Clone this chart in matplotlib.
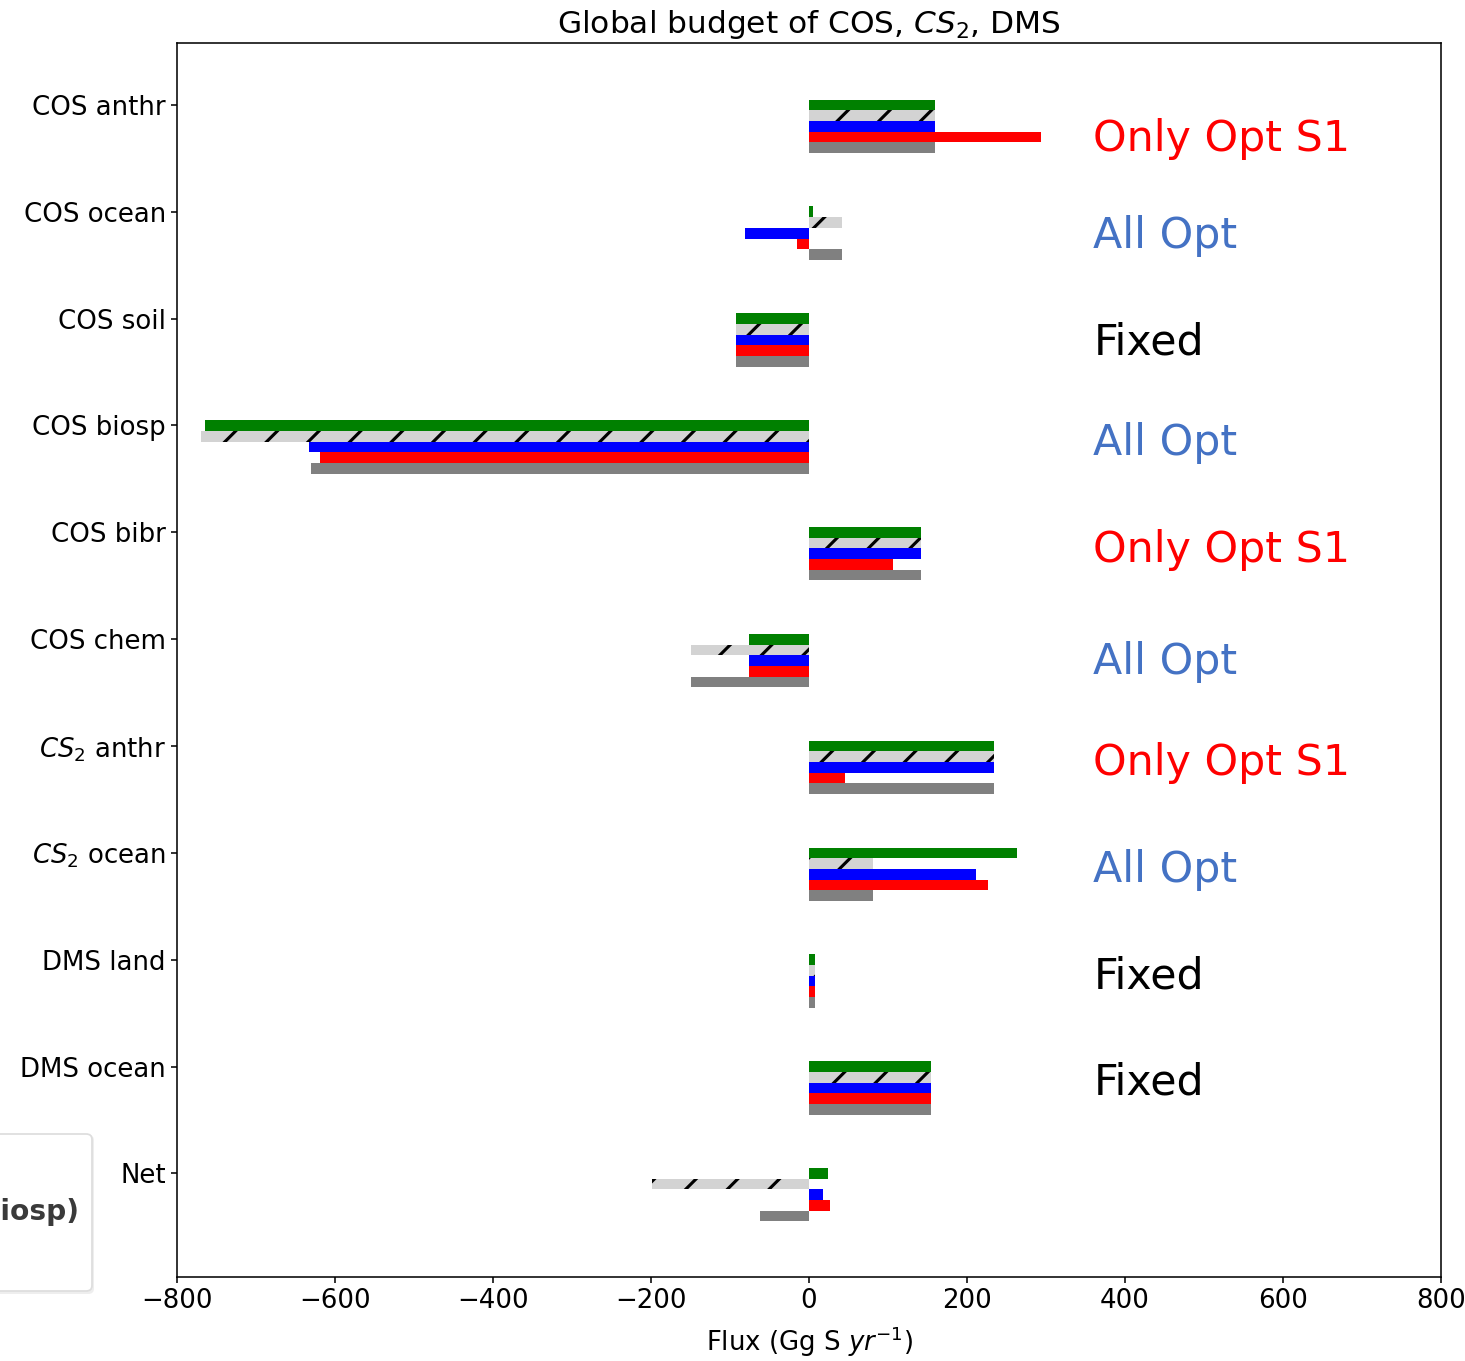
import matplotlib
matplotlib.use("Agg")
import matplotlib.pyplot as plt
from matplotlib.patches import FancyBboxPatch
import numpy as np

# Flux categories (top to bottom)
categories = ["COS anthr", "COS ocean", "COS soil", "COS biosp", "COS bibr",
              "COS chem", "$CS_2$ anthr", "$CS_2$ ocean", "DMS land",
              "DMS ocean", "Net"]

# Fluxes per run, Gg S / yr
flux_green = [160, 4.5, -92, -764, 142, -76, 234, 263, 7, 154, 24]
flux_hatched = [160, 42, -92, -770, 142, -149, 234, 81, 7, 154, -199]
flux_blue = [160, -81, -92, -633, 142, -76, 234, 212, 7, 154, 18]
flux_red = [294, -15, -92, -619, 106, -76, 46, 227, 7, 154, 27]
flux_gray = [160, 42, -92, -631, 142, -149, 234, 81, 7, 154, -62]

# Optimisation status annotated beside each source/sink
status_labels = ["Only Opt S1", "All Opt", "Fixed", "All Opt", "Only Opt S1",
                 "All Opt", "Only Opt S1", "All Opt", "Fixed", "Fixed"]
status_colors = {"Only Opt S1": "#ff0000", "All Opt": "#4472c4", "Fixed": "black"}
status_offsets = [0.43, 0.34, 0.34, 0.28, 0.28, 0.33, 0.27, 0.27, 0.27, 0.26]

xticks = [-800, -600, -400, -200, 0, 200, 400, 600, 800]

W, H, DPI = 1465, 1361, 250
plt.rcParams["font.family"] = ["DejaVu Sans"]
plt.rcParams["font.size"] = 7.5
plt.rcParams["hatch.linewidth"] = 0.9
plt.rcParams["axes.linewidth"] = 0.45

fig = plt.figure(figsize=(W / DPI, H / DPI), dpi=DPI)
ax = fig.add_axes([177 / W, 1 - 1277 / H, (1441 - 177) / W, (1277 - 43) / H])

ypos = np.arange(len(categories))
bar_h = 0.1
series = [
    (flux_green, "green", None),
    (flux_hatched, "lightgray", "//"),
    (flux_blue, "blue", None),
    (flux_red, "red", None),
    (flux_gray, "gray", None),
]
for i, (vals, col, hatch) in enumerate(series):
    ax.barh(ypos + i * bar_h, vals, height=bar_h, color=col, hatch=hatch,
            linewidth=0)

ax.set_yticks(ypos)
ax.set_yticklabels(categories)
ax.set_xticks(xticks)
ax.set_xlim(-800, 800)
ax.set_ylim(10.97, -0.58)
ax.tick_params(axis="both", length=1.6, width=0.45, pad=1.6)

ax.set_title("Global budget of COS, $CS_2$, DMS", fontsize=9, pad=3)
ax.set_xlabel("Flux (Gg S $yr^{-1}$)", labelpad=3)

for k, (lab, off) in enumerate(zip(status_labels, status_offsets)):
    ax.text(360, k + off, lab, color=status_colors[lab], fontsize=12.3,
            ha="left", va="baseline", clip_on=False)

# Legend panel sitting off the left edge of the figure
shadow = FancyBboxPatch((-40 / W, 1 - 1294 / H), 134 / W, 159 / H,
                        boxstyle="round,pad=0,rounding_size=0.004",
                        transform=fig.transFigure, facecolor="#eeeeee",
                        edgecolor="none", zorder=0)
panel = FancyBboxPatch((-42 / W, 1 - 1291 / H), 134 / W, 157 / H,
                       boxstyle="round,pad=0,rounding_size=0.004",
                       transform=fig.transFigure, facecolor="white",
                       edgecolor="#dddddd", linewidth=0.5, zorder=1)
fig.patches.extend([shadow, panel])
fig.text(79 / W, 1 - 1212 / H, "(COS biosp)", ha="right", va="center",
         fontsize=8.1, fontweight="bold", color="#3a3a3a")

fig.savefig("out.png", dpi=DPI)
